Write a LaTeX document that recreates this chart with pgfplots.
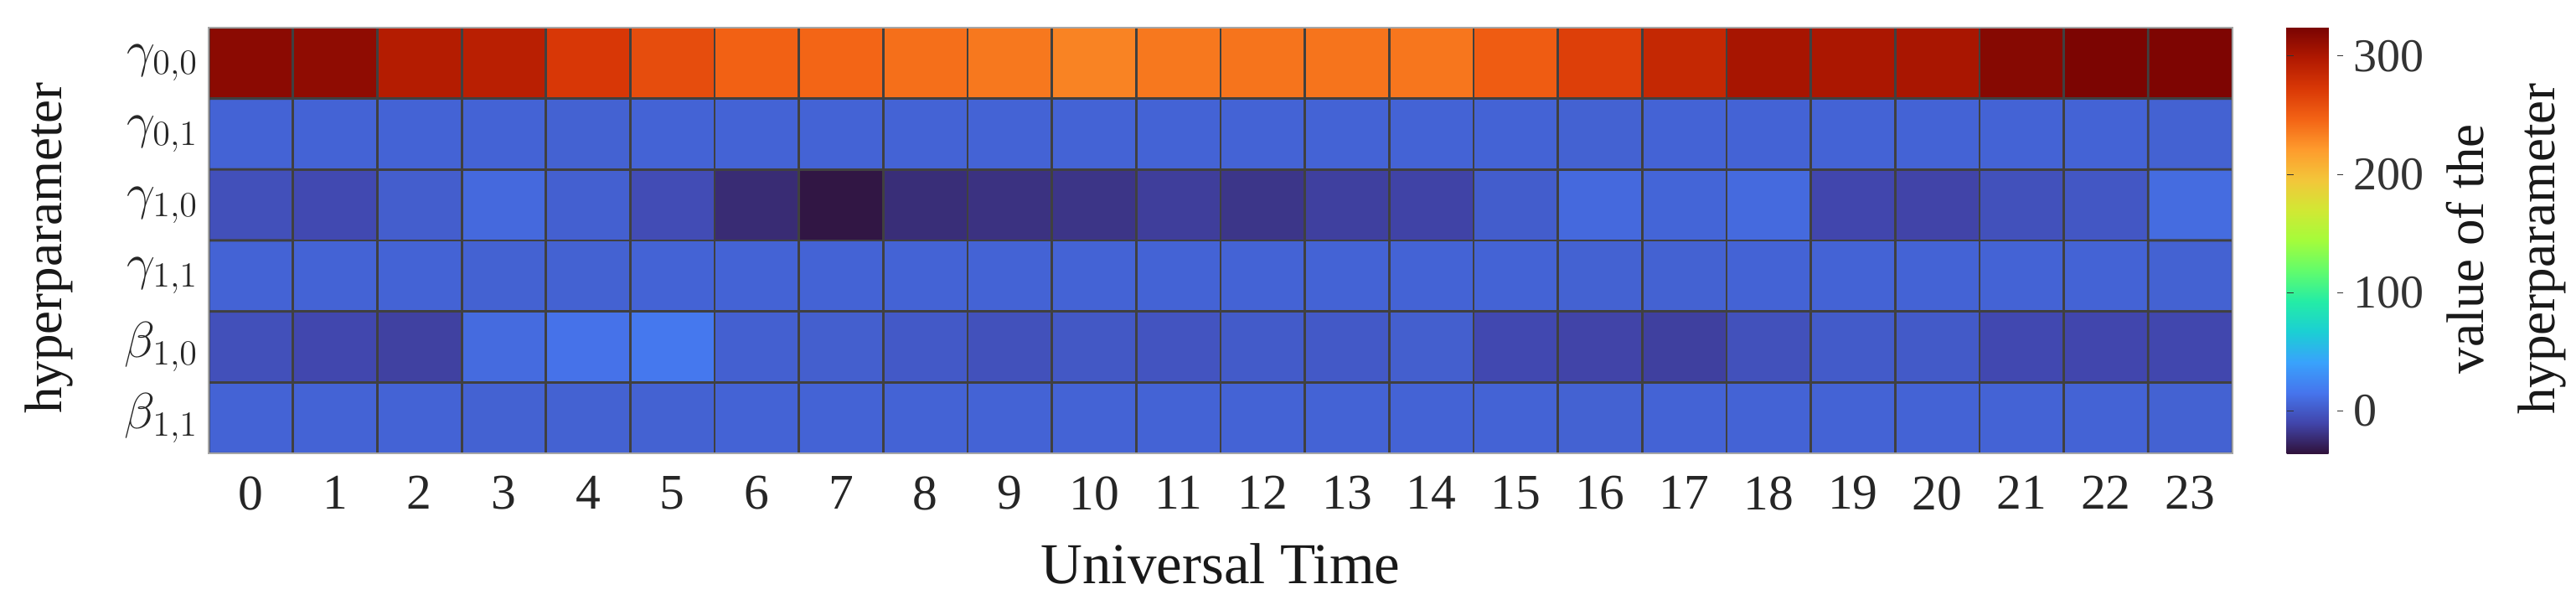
\documentclass[border=0pt]{standalone}
\usepackage{fontspec}
\setmainfont{Liberation Serif}
\usepackage{pgfplots}
\pgfplotsset{compat=1.18}
\pgfplotsset{
  colormap={turbo}{rgb255=(48,18,59) rgb255=(65,69,171) rgb255=(70,117,237)
    rgb255=(57,162,252) rgb255=(27,207,212) rgb255=(36,236,166)
    rgb255=(97,252,108) rgb255=(164,252,59) rgb255=(209,232,52)
    rgb255=(243,198,58) rgb255=(254,155,45) rgb255=(243,99,21)
    rgb255=(217,56,6) rgb255=(177,25,1) rgb255=(122,4,2)}
}

\begin{document}
\begin{tikzpicture}
\begin{axis}[
  scale only axis,
  width=24.24cm, height=5.10cm,
  xmin=-0.5, xmax=23.5,
  ymin=-0.5, ymax=5.5,
  y dir=reverse,
  xtick={0,...,23},
  ytick={0,...,5},
  yticklabels={$\gamma_{0,0}$, $\gamma_{0,1}$, $\gamma_{1,0}$,
               $\gamma_{1,1}$, $\beta_{1,0}$, $\beta_{1,1}$},
  major tick length=0pt,
  axis line style={draw=black!35, line width=0.6pt},
  /pgf/number format/assume math mode=true,
  xticklabel style={font=\fontsize{17}{20}\selectfont, text=black!85, yshift=-0.15cm},
  yticklabel style={font=\fontsize{16.5}{19}\selectfont, text=black!85},
  xlabel={Universal Time},
  ylabel={hyperparameter},
  xlabel style={font=\fontsize{19.7}{22}\selectfont, text=black!90,
                at={(axis description cs:0.5,-0.259)}, anchor=center},
  ylabel style={font=\fontsize{18}{22}\selectfont, text=black!90,
                at={(axis description cs:-0.0788,0.482)}, anchor=center},
  colorbar,
  colormap name=turbo,
  point meta min=-36, point meta max=324,
  colorbar style={
    at={(parent axis.north east)}, anchor=north west, xshift=0.35cm,
    scale only axis, width=0.68cm, height=5.10cm,
    ytick={0,100,200,300},
    axis line style={draw=none},
    major tick length=0.08cm,
    ytick style={black!80},
    /pgf/number format/assume math mode=true,
    yticklabel style={font=\fontsize{16}{19}\selectfont, text=black!80},
    ylabel={value of the\\hyperparameter},
    ylabel style={font=\fontsize{18}{24.2}\selectfont, text=black!90, align=center,
                  at={(axis description cs:3.87,0.48)}, anchor=center},
  },
]
\addplot[matrix plot, mesh/cols=24, point meta=explicit,
         draw=black!75, line width=0.8pt] coordinates {
  % gamma_{0,0}
  (0,0)[316] (1,0)[314] (2,0)[296] (3,0)[293] (4,0)[273] (5,0)[260]
  (6,0)[248] (7,0)[246] (8,0)[241] (9,0)[237] (10,0)[232] (11,0)[237]
  (12,0)[239] (13,0)[239] (14,0)[238] (15,0)[251] (16,0)[268] (17,0)[286]
  (18,0)[303] (19,0)[301] (20,0)[302] (21,0)[318] (22,0)[323] (23,0)[322]

  % gamma_{0,1}
  (0,1)[6] (1,1)[6] (2,1)[6] (3,1)[6] (4,1)[5] (5,1)[6]
  (6,1)[6] (7,1)[6] (8,1)[6] (9,1)[6] (10,1)[6] (11,1)[6]
  (12,1)[6] (13,1)[6] (14,1)[6] (15,1)[6] (16,1)[5] (17,1)[6]
  (18,1)[6] (19,1)[6] (20,1)[6] (21,1)[6] (22,1)[6] (23,1)[5]

  % gamma_{1,0}
  (0,2)[-4.5] (1,2)[-8] (2,2)[3] (3,2)[9] (4,2)[4] (5,2)[-6.5]
  (6,2)[-23] (7,2)[-34] (8,2)[-22] (9,2)[-20] (10,2)[-18.5] (11,2)[-14]
  (12,2)[-18] (13,2)[-13] (14,2)[-11.5] (15,2)[2.5] (16,2)[9] (17,2)[7]
  (18,2)[9.5] (19,2)[-9.5] (20,2)[-11] (21,2)[-4] (22,2)[-0.5] (23,2)[10.5]

  % gamma_{1,1}
  (0,3)[6] (1,3)[6] (2,3)[6] (3,3)[5] (4,3)[5] (5,3)[6]
  (6,3)[6] (7,3)[6] (8,3)[6] (9,3)[6] (10,3)[6] (11,3)[6]
  (12,3)[6] (13,3)[6] (14,3)[6] (15,3)[6] (16,3)[5] (17,3)[5]
  (18,3)[6] (19,3)[6] (20,3)[6] (21,3)[6] (22,3)[6] (23,3)[5]

  % beta_{1,0}
  (0,4)[-4.5] (1,4)[-9] (2,4)[-12.5] (3,4)[10] (4,4)[14] (5,4)[17]
  (6,4)[4] (7,4)[3.5] (8,4)[0.5] (9,4)[-4] (10,4)[0] (11,4)[-2]
  (12,4)[1.5] (13,4)[0.5] (14,4)[3.5] (15,4)[-8.5] (16,4)[-11] (17,4)[-13]
  (18,4)[-4] (19,4)[1.5] (20,4)[1] (21,4)[-8.5] (22,4)[-9.5] (23,4)[-9]

  % beta_{1,1}
  (0,5)[6] (1,5)[6] (2,5)[6] (3,5)[5] (4,5)[5] (5,5)[5]
  (6,5)[6] (7,5)[6] (8,5)[6] (9,5)[6] (10,5)[6] (11,5)[6]
  (12,5)[6] (13,5)[6] (14,5)[6] (15,5)[6] (16,5)[5] (17,5)[6]
  (18,5)[6] (19,5)[6] (20,5)[6] (21,5)[6] (22,5)[6] (23,5)[5]
};
\end{axis}
\path (-2.50,-1.87) rectangle (28.25,5.43);
\end{tikzpicture}
\end{document}
